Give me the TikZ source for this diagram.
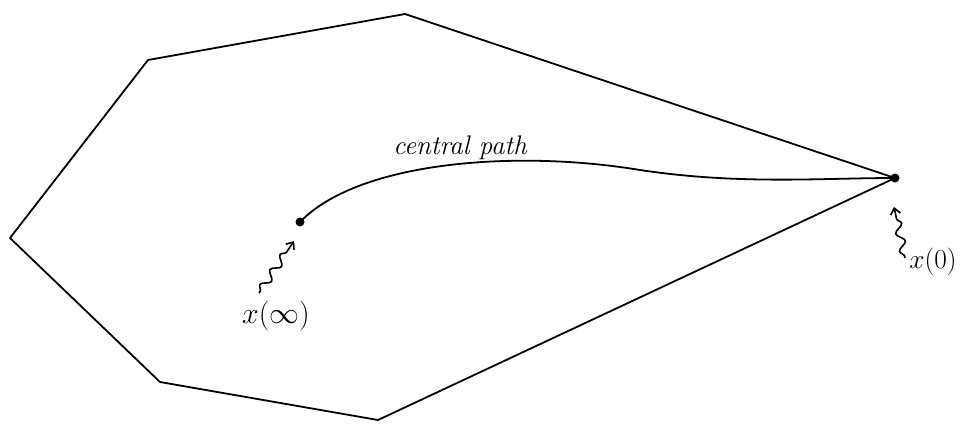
\documentclass[tikz,border=0pt]{standalone}
\usetikzlibrary{decorations.pathmorphing,arrows.meta}
\begin{document}
\begin{tikzpicture}[x=1pt,y=-1pt,
  edge/.style={line width=1.8pt,line join=round,line cap=round},
  dot/.style={circle,fill=black,inner sep=0pt,minimum size=9pt},
  wavy/.style={line width=1.6pt,-{Straight Barb[length=6pt,width=10pt]},
    decorate,decoration={snake,amplitude=4pt,segment length=18pt,post length=6pt,pre length=2pt}},
  lbl/.style={font=\fontsize{24}{28}\selectfont}]
\useasboundingbox (0,0) rectangle (961,424);
% polygon
\coordinate (A) at (10,238);
\coordinate (B) at (148,60);
\coordinate (C) at (405,14);
\coordinate (D) at (895,178);
\coordinate (E) at (378,420);
\coordinate (F) at (160,382);
\draw[edge] (A) -- (B) -- (C) -- (D) -- (E) -- (F) -- cycle;
% central path
\node[dot] (xinf) at (300,222) {};
\node[dot] (xzero) at (895,178) {};
\draw[edge] (xinf.center) .. controls (360,160) and (520,150) .. (640,170)
  .. controls (740,185) and (820,178) .. (xzero.center);
\node[font=\fontsize{24}{28}\selectfont\itshape] (cp) at (460,148) {\scalebox{1.12}{central path}};
% labels
\node[lbl] (linf) at (276,316) {\scalebox{1.2}{$x(\infty)$}};
\node[lbl] (lzero) at (933,262) {\scalebox{1.1}{$x(0)$}};
\coordinate (sinf) at (259,293);
\coordinate (szero) at (905,258);
\draw[wavy] (sinf) -- (294,241);
\draw[wavy] (szero) -- (894,207);
\end{tikzpicture}
\end{document}
